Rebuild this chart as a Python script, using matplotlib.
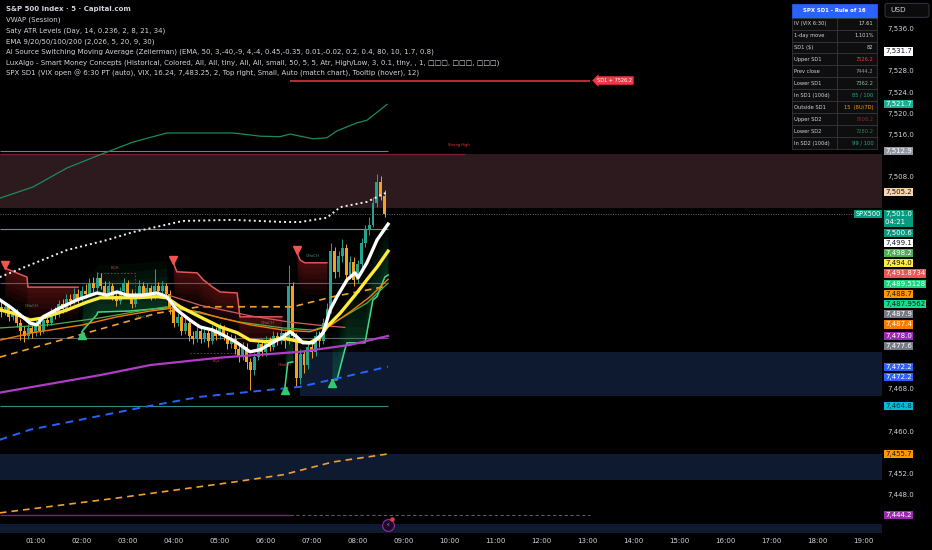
import numpy as np
import matplotlib.pyplot as plt
from matplotlib.patches import Rectangle, FancyBboxPatch
from matplotlib.ticker import FuncFormatter

BG = '#000000'
TXT = '#d1d4dc'
UP = '#22a48e'
DN = '#f5a01e'

# ---- 5 minute candles, first bar at 00:15
bar_start = 0.25
first_open = 7483.5
closes = [7482.5, 7483.5, 7481.5, 7482.5, 7480.5, 7479.0, 7478.0, 7479.5, 7478.5, 7480.0,
          7479.0, 7481.0, 7480.5, 7482.5, 7482.0, 7484.0, 7483.0, 7485.0, 7484.5, 7486.0,
          7485.0, 7486.5, 7486.0, 7488.0, 7487.0, 7489.0, 7487.5, 7486.0, 7487.5, 7485.5,
          7484.5, 7486.5, 7488.0, 7486.0, 7484.0, 7485.5, 7487.5, 7486.0, 7487.0, 7485.5,
          7487.5, 7486.5, 7487.5, 7486.0, 7483.0, 7480.5, 7481.5, 7479.0, 7480.5, 7478.0,
          7477.5, 7479.0, 7477.5, 7478.5, 7477.0, 7479.0, 7478.0, 7479.5, 7478.0, 7476.5,
          7477.5, 7475.5, 7474.0, 7476.0, 7473.0, 7471.5, 7474.0, 7476.5, 7475.0, 7477.0,
          7476.0, 7478.0, 7477.0, 7478.5, 7477.0, 7487.5, 7478.0, 7470.0, 7474.5, 7472.5,
          7476.0, 7475.0, 7478.0, 7477.0, 7480.5, 7483.0, 7494.0, 7490.0, 7493.0, 7494.5,
          7489.5, 7492.0, 7488.5, 7491.5, 7495.5, 7498.0, 7499.0, 7503.0, 7507.0, 7504.5,
          7501.0]
highs = [7484.5, 7484.3, 7484.0, 7483.4, 7483.0, 7481.2, 7479.8, 7480.3, 7480.5, 7481.0,
         7480.8, 7481.8, 7482.0, 7483.3, 7483.5, 7484.8, 7485.0, 7485.9, 7486.0, 7487.0,
         7486.8, 7487.5, 7487.8, 7489.0, 7489.2, 7490.0, 7489.8, 7488.3, 7488.4, 7488.0,
         7486.3, 7487.2, 7489.0, 7488.6, 7486.8, 7486.4, 7488.5, 7488.2, 7487.9, 7487.6,
         7490.6, 7488.2, 7488.3, 7488.0, 7486.6, 7483.8, 7482.4, 7482.0, 7481.3, 7481.0,
         7478.9, 7479.8, 7479.6, 7479.4, 7479.2, 7480.0, 7479.7, 7480.4, 7480.1, 7478.7,
         7478.3, 7478.2, 7476.3, 7476.8, 7476.6, 7473.8, 7474.8, 7477.3, 7477.1, 7477.9,
         7477.7, 7478.9, 7478.7, 7479.5, 7479.0, 7491.4, 7488.2, 7478.6, 7475.5, 7475.2,
         7477.0, 7476.8, 7479.0, 7478.9, 7481.4, 7484.2, 7495.6, 7494.8, 7494.0, 7496.3,
         7495.3, 7493.0, 7492.8, 7492.4, 7496.4, 7499.0, 7500.5, 7504.2, 7508.6, 7508.2,
         7505.6]
lows = [7481.5, 7482.0, 7480.8, 7481.0, 7479.6, 7477.2, 7476.8, 7477.4, 7477.6, 7477.9,
        7478.2, 7478.6, 7479.8, 7480.0, 7481.2, 7481.5, 7482.3, 7482.6, 7483.7, 7484.0,
        7484.3, 7484.6, 7485.2, 7485.5, 7486.3, 7486.5, 7486.8, 7485.2, 7485.5, 7484.8,
        7483.6, 7484.0, 7485.8, 7485.3, 7483.2, 7483.4, 7485.0, 7485.4, 7485.3, 7484.8,
        7485.0, 7485.8, 7485.9, 7485.2, 7482.2, 7479.6, 7479.8, 7478.2, 7478.4, 7477.0,
        7476.5, 7476.8, 7476.6, 7476.9, 7476.0, 7476.4, 7477.2, 7477.5, 7477.2, 7475.6,
        7475.8, 7474.6, 7473.0, 7473.4, 7471.8, 7467.8, 7470.6, 7473.4, 7474.2, 7474.3,
        7475.1, 7475.4, 7476.2, 7476.4, 7475.8, 7476.5, 7477.0, 7468.5, 7468.9, 7471.0,
        7471.8, 7473.9, 7474.3, 7476.0, 7476.5, 7479.8, 7482.4, 7489.0, 7489.2, 7492.0,
        7488.6, 7488.8, 7487.4, 7487.9, 7491.0, 7494.8, 7497.0, 7498.5, 7502.4, 7503.6,
        7500.4]

# ---- indicator lines (time in hours, price)
ema9_t = [0.22, 0.44, 0.66, 0.88, 1.03, 1.16, 1.53, 1.90, 2.33, 2.55, 2.77, 2.98, 3.33,
          3.64, 3.85, 4.07, 4.35, 4.57, 4.85, 5.07, 5.38, 5.66, 5.88, 6.14, 6.38, 6.53,
          6.68, 6.81, 7.03, 7.25, 7.40, 7.55, 7.77, 7.94, 8.01, 8.20, 8.42, 8.66]
ema9_p = [7484.8, 7483.5, 7482.0, 7480.4, 7480.1, 7481.6, 7483.3, 7484.8, 7486.1, 7485.7,
          7486.3, 7485.7, 7485.7, 7486.1, 7485.4, 7482.9, 7481.0, 7479.7, 7479.1, 7478.2,
          7476.7, 7475.0, 7475.4, 7476.7, 7477.8, 7478.8, 7477.8, 7476.7, 7476.7, 7478.6,
          7482.9, 7485.4, 7488.6, 7489.9, 7489.0, 7491.8, 7496.1, 7499.1]
ema20_t = [0.22, 0.51, 0.88, 1.16, 1.68, 2.12, 2.40, 3.12, 3.64, 3.85, 4.14, 4.57, 5.01,
           5.38, 5.66, 6.03, 6.38, 6.75, 6.96, 7.18, 7.33, 7.62, 7.98, 8.20, 8.42, 8.66]
ema20_p = [7482.9, 7482.3, 7481.0, 7481.4, 7482.9, 7484.4, 7485.2, 7485.2, 7485.4, 7485.2,
           7483.5, 7481.6, 7479.7, 7478.6, 7477.2, 7476.9, 7477.6, 7476.9, 7476.7, 7477.8,
           7479.7, 7482.3, 7486.1, 7488.6, 7491.0, 7494.0]
ema50_t = [0.22, 0.94, 2.03, 2.77, 3.49, 4.03, 4.57, 5.01, 5.66, 6.38, 6.96, 7.40, 7.83, 8.27, 8.66]
ema50_p = [7477.2, 7478.6, 7480.1, 7481.6, 7482.7, 7483.3, 7482.5, 7481.4, 7480.1, 7479.1,
           7478.8, 7479.9, 7482.5, 7485.4, 7488.7]
trend_t = [0.22, 1.31, 2.40, 3.12, 3.85, 4.57, 5.44, 6.38, 7.03, 7.40, 7.83, 8.20, 8.66]
trend_p = [7479.5, 7480.1, 7481.4, 7482.5, 7483.5, 7482.3, 7480.6, 7479.5, 7479.1, 7480.1,
           7482.3, 7484.2, 7487.96]
band_t = [3.92, 4.57, 5.66, 6.53, 7.18, 7.72]
band_p = [7485.6, 7483.8, 7481.8, 7480.6, 7480.0, 7479.6]
vwap_up_t = [0.22, 1.68, 2.55, 3.12, 4.20, 5.29, 6.38, 6.75, 7.33, 7.62, 8.20, 8.66]
vwap_up_p = [7489.1, 7494.2, 7496.1, 7497.6, 7499.7, 7499.9, 7499.5, 7499.5, 7500.3, 7502.3,
             7503.3, 7505.2]
atr_up_t = [0.22, 0.94, 1.68, 2.40, 3.12, 3.85, 5.29, 5.88, 6.31, 6.53, 7.03, 7.33, 7.55,
            7.98, 8.20, 8.64]
atr_up_p = [7504.0, 7506.1, 7509.7, 7512.2, 7514.6, 7516.3, 7516.3, 7515.7, 7515.6, 7516.1,
            7515.2, 7515.4, 7516.7, 7518.2, 7518.7, 7521.7]
ema100_t = [0.22, 1.96, 3.64, 4.57, 6.59, 7.46, 8.64]
ema100_p = [7474.0, 7478.2, 7482.3, 7483.5, 7483.5, 7485.4, 7487.4]
ema200_t = [0.22, 2.77, 5.29, 6.38, 7.46, 8.64]
ema200_p = [7444.6, 7447.4, 7450.4, 7451.8, 7454.2, 7455.7]
vwap_dn_t = [0.22, 0.88, 3.49, 4.57, 6.75, 7.62, 8.66]
vwap_dn_p = [7458.4, 7460.3, 7464.8, 7466.5, 7468.4, 7470.1, 7472.2]
vwap_t = [0.22, 2.40, 3.49, 5.01, 6.75, 7.83, 8.66]
vwap_p = [7467.3, 7470.6, 7472.5, 7473.9, 7475.0, 7476.3, 7478.0]

# trailing stops of the switching average
bear_steps = [([0.33, 0.81, 0.83, 1.92], [7490.8, 7489.1, 7487.2, 7487.2]),
              ([3.99, 4.07, 4.51, 4.64, 4.85, 5.01, 5.38, 5.44, 6.35],
               [7491.8, 7490.1, 7489.9, 7488.6, 7487.2, 7486.3, 7486.1, 7481.6, 7481.6]),
              ([6.68, 6.75, 6.85, 7.33], [7493.7, 7492.3, 7491.8, 7491.8])]
bull_steps = [([2.01, 2.03, 2.33, 2.35, 3.05, 3.85], [7478.8, 7479.1, 7482.0, 7482.5, 7482.7, 7483.3]),
              ([6.42, 6.48, 6.59], [7468.4, 7472.9, 7473.1]),
              ([7.44, 7.55, 7.72, 7.77, 8.16, 8.33, 8.42, 8.59, 8.66],
               [7469.7, 7469.7, 7475.4, 7476.7, 7476.7, 7484.8, 7485.4, 7489.1, 7489.5])]

# horizontal levels drawn over the session
levels = [7512.9, 7498.2, 7487.9, 7477.6, 7464.8]
level_colors = ['#787b86', '#4caf50', '#5d606b', '#5d606b', '#2a8f8c']
strong_high = 7512.4
sd1_upper = 7526.2
prev_close = 7444.2
last_price = 7501.0

# zones (start hour, top, bottom)
premium_zone = (7512.3, 7502.2)
discount_zones = [(6.75, 7475.0, 7466.7), (0.22, 7455.7, 7450.8), (0.22, 7442.5, 7440.8)]

# smart money labels
choch_t = [0.92, 3.33, 6.05, 7.01]
choch_p = [7483.7, 7481.6, 7480.4, 7493.1]

# price scale tags
tag_values = [7531.7, 7521.7, 7512.9, 7505.2, 7501.0, 7500.6, 7499.1, 7498.2, 7494.0,
              7491.8734, 7489.5128, 7488.7, 7487.9562, 7487.9, 7487.4, 7478.0, 7477.6,
              7472.2, 7472.2, 7464.8, 7455.7, 7444.2]
tag_text = ['7,531.7', '7,521.7', '7,512.9', '7,505.2', '7,501.0', '7,500.6', '7,499.1',
            '7,498.2', '7,494.0', '7,491.8734', '7,489.5128', '7,488.7', '7,487.9562',
            '7,487.9', '7,487.4', '7,478.0', '7,477.6', '7,472.2', '7,472.2', '7,464.8',
            '7,455.7', '7,444.2']
tag_bg = ['#ffffff', '#22ab94', '#9598a1', '#f9d3ad', '#089981', '#089981', '#ffffff',
          '#4caf50', '#ffeb3b', '#f05350', '#1ed47e', '#ff9800', '#19d98a', '#787b86',
          '#f57c00', '#9c27b0', '#787b86', '#2962ff', '#2962ff', '#00bcd4', '#ff9800',
          '#9c27b0']
tag_fg = ['#131722', 'white', 'white', '#131722', 'white', 'white', '#131722', 'white',
          '#131722', 'white', 'white', '#131722', '#131722', 'white', 'white', 'white',
          'white', 'white', 'white', '#0b2f3a', '#131722', 'white']

table_keys = ['IV (VIX 6:30)', '1-day move', 'SD1 ($)', 'Upper SD1', 'Prev close',
              'Lower SD1', 'In SD1 (100d)', 'Outside SD1', 'Upper SD2', 'Lower SD2',
              'In SD2 (100d)']
table_vals = ['17.61', '1.101%', '82', '7526.2', '7444.2', '7362.2', '85 / 100',
              '15  (8U/7D)', '7608.2', '7280.2', '99 / 100']
table_colors = [TXT, TXT, TXT, '#f23645', '#9598a1', '#8fb59a', '#22ab94', '#ff9800',
                '#8b2a35', '#2e7d4f', '#22ab94']

legend_lines = [
    'S&P 500 Index · 5 · Capital.com',
    'VWAP (Session)',
    'Saty ATR Levels (Day, 14, 0.236, 2, 8, 21, 34)',
    'EMA 9/20/50/100/200 (2,026, 5, 20, 9, 30)',
    'AI Source Switching Moving Average (Zeiierman) (EMA, 50, 3,-40,-9, 4,-4, 0.45,-0.35, 0.01,-0.02, 0.2, 0.4, 80, 10, 1.7, 0.8)',
    'LuxAlgo - Smart Money Concepts (Historical, Colored, All, All, tiny, All, All, small, 50, 5, 5, Atr, High/Low, 3, 0.1, tiny, , 1, □□□, □□□, □□□)',
    'SPX SD1 (VIX open @ 6:30 PT (auto), VIX, 16.24, 7,483.25, 2, Top right, Small, Auto (match chart), Tooltip (hover), 12)',
]

hours = list(range(1, 20))

fig = plt.figure(figsize=(9.32, 5.5), dpi=100, facecolor=BG)
ax = fig.add_axes([0, 17 / 550, 882 / 932, 533 / 550])
ax.set_facecolor(BG)
x0, x1 = 0.224, 19.398
y0, y1 = 7440.8, 7541.4
ax.set_xlim(x0, x1)
ax.set_ylim(y0, y1)
for s in ax.spines.values():
    s.set_visible(False)

# zones
ax.axhspan(premium_zone[1], premium_zone[0], color='#2c1a1e', lw=0, zorder=0)
for ts, top, bot in discount_zones:
    ax.fill_between([ts, x1], top, bot, color='#0d1a30', lw=0, zorder=0)

# levels
end_t = ema9_t[-1]
for lv, c in zip(levels, level_colors):
    ax.hlines(lv, x0, end_t, color=c, lw=0.8, zorder=1)
ax.hlines(strong_high, x0, 10.33, color='#7a2228', lw=0.9, zorder=1)
ax.text(10.2, strong_high + 1.4, 'Strong High', color='#f23645', fontsize=2.6, ha='center', zorder=6)
ax.hlines(sd1_upper, 6.53, 13.05, color='#f23645', lw=1.1, zorder=2)
ax.text(13.2, sd1_upper, 'SD1 + 7526.2', color='white', fontsize=3.6, ha='left', va='center',
        bbox=dict(boxstyle='larrow,pad=0.35', fc='#f23645', ec='none'), zorder=8)
ax.hlines(prev_close, x0, 6.53, color='#6a2f6e', lw=1.0, zorder=1)
ax.hlines(prev_close, 6.53, 13.05, color='#6b6e78', lw=0.6, ls=(0, (4, 3)), zorder=1)
ax.hlines(last_price, x0, x1, color='#5a6e6a', lw=0.7, ls=(0, (1, 1.5)), zorder=1)

# switching average trailing stops with shaded areas
for ts, ps in bear_steps:
    ps = np.array(ps)
    for k in range(6):
        ax.fill_between(ts, ps, ps - 6 * (k + 1) / 6, color='#c02a2a', alpha=0.07, lw=0, zorder=1)
    ax.plot(ts, ps, color='#e05858', lw=1.1, zorder=4)
    ax.plot(ts[0], ps[0] + 0.6, marker='v', ms=5.5, color='#f05350', zorder=5)
for ts, ps in bull_steps:
    ps = np.array(ps)
    for k in range(6):
        ax.fill_between(ts, ps, ps + 9 * (k + 1) / 6, color='#1fa060', alpha=0.06, lw=0, zorder=1)
    ax.plot(ts, ps, color='#3ddc84', lw=1.1, zorder=4)
    ax.plot(ts[0], ps[0] - 0.6, marker='^', ms=5.5, color='#2ecc71', zorder=5)

# candles
closes = np.array(closes)
opens = np.r_[first_open, closes[:-1]]
t_bar = bar_start + np.arange(len(closes)) / 12
col = np.where(closes >= opens, UP, DN)
ax.vlines(t_bar, lows, highs, colors=col, lw=0.7, zorder=3)
ax.bar(t_bar, np.maximum(np.abs(closes - opens), 0.2), bottom=np.minimum(opens, closes),
       width=0.064, color=col, lw=0, zorder=3)

# averages / bands
ax.plot(atr_up_t, atr_up_p, color='#1d8a5c', lw=0.9, zorder=2)
ax.plot(vwap_up_t, vwap_up_p, color='#f0f0f0', lw=1.4, ls=(0, (1, 1.6)), zorder=4)
ax.plot(vwap_dn_t, vwap_dn_p, color='#2962ff', lw=1.4, ls=(0, (4, 3)), zorder=4)
ax.plot(ema100_t, ema100_p, color='#f0a030', lw=1.2, ls=(0, (4, 3)), zorder=4)
ax.plot(ema200_t, ema200_p, color='#f0a030', lw=1.2, ls=(0, (4, 3)), zorder=4)
ax.plot(vwap_t, vwap_p, color='#b03cc8', lw=1.6, zorder=4)
ax.plot(band_t, band_p, color='#d0605a', lw=0.9, zorder=4)
ax.plot(trend_t, trend_p, color='#4caf50', lw=0.9, zorder=4)
ax.plot(ema50_t, ema50_p, color='#f57c00', lw=1.0, zorder=4)
ax.plot(ema20_t, ema20_p, color='#ffeb3b', lw=2.4, zorder=5)
ax.plot(ema9_t, ema9_p, color='#ffffff', lw=2.4, zorder=5)

# smart money concept labels
for t, p in zip(choch_t, choch_p):
    ax.text(t, p, 'CHoCH', color='#4f8f70', fontsize=2.8, ha='center', va='center', zorder=6)
ax.text(6.42, 7472.5, 'CHoCH', color='#c8404a', fontsize=2.8, ha='center', va='center', zorder=6)
ax.plot([2.33, 3.16, 3.16], [7489.9, 7489.9, 7486.1], color='#a03040', lw=0.6, ls=(0, (2, 2)), zorder=2)
ax.text(2.72, 7491.0, 'EQH', color='#c8404a', fontsize=2.8, ha='center', va='center', zorder=6)
ax.plot([4.35, 5.38], [7474.8, 7474.8], color='#a03040', lw=0.6, ls=(0, (2, 2)), zorder=2)
ax.text(4.92, 7473.3, 'EQL', color='#c8404a', fontsize=2.8, ha='center', va='center', zorder=6)

# alert icon
ax.plot(end_t, 7442.3, 'o', ms=8.5, mfc='#1a0d22', mec='#9c27b0', mew=0.8, zorder=7, clip_on=False)
ax.text(end_t, 7442.3, '⚡', color='#b45fd0', fontsize=4.5, ha='center', va='center', zorder=8)
ax.plot(end_t + 0.09, 7443.5, 'o', ms=2.2, color='#f23645', zorder=9)

# price tags on the scale, stacked so they do not overlap
upp = (y1 - y0) / 533.0
half = 5.1 * upp
ytr = ax.get_yaxis_transform()
bottom = 1e9
tag_pos = []
for v, s, bg, fg in zip(tag_values, tag_text, tag_bg, tag_fg):
    y = min(v, bottom - half)
    ax.text(1.0035, y, s, transform=ytr, fontsize=5, color=fg, ha='left', va='center',
            bbox=dict(boxstyle='square,pad=0.16', fc=bg, ec='none'), zorder=10, clip_on=False)
    tag_pos.append(y)
    bottom = y - half
    if s == '7,501.0':
        y2 = y - 8.4 * upp
        ax.text(1.0035, y2, '04:21   ', transform=ytr, fontsize=5, color=fg, ha='left',
                va='center', bbox=dict(boxstyle='square,pad=0.16', fc=bg, ec='none'),
                zorder=10, clip_on=False)
        tag_pos.append(y2)
        bottom = y2 - half
ax.text(0.9985, last_price, 'SPX500', transform=ytr, fontsize=4.8, color='white', ha='right',
        va='center', bbox=dict(boxstyle='square,pad=0.16', fc='#089981', ec='none'), zorder=10)

# axes ticks; scale labels hidden where a tag covers them
tag_pos = np.array(tag_pos)


def price_fmt(v, _):
    if np.any(np.abs(tag_pos - v) < 9.0 * upp):
        return ''
    return f'{v:,.1f}'


ax.yaxis.tick_right()
ax.set_yticks(np.arange(7448, 7537, 4))
ax.yaxis.set_major_formatter(FuncFormatter(price_fmt))
ax.set_xticks(hours)
ax.set_xticklabels([f'{h:02d}:00' for h in hours])
ax.tick_params(axis='both', length=0, colors=TXT, labelsize=5)
ax.tick_params(axis='y', pad=4.2)
ax.tick_params(axis='x', pad=3.5)

# USD button
fig.add_artist(FancyBboxPatch((885 / 932, 1 - 17.3 / 550), 44 / 932, 14 / 550,
                              boxstyle='round,pad=0,rounding_size=0.004', fc='#0b0b0b',
                              ec='#3b3f4a', lw=0.6, transform=fig.transFigure))
fig.text(890 / 932, 1 - 10.3 / 550, 'USD', fontsize=5.3, color=TXT, va='center')

# legend text
for i, s in enumerate(legend_lines):
    fig.text(6 / 932, 1 - (9.5 + i * 10.6) / 550, s, fontsize=5, color=TXT, va='center',
             weight='bold' if i == 0 else 'normal')

# SD1 table
tab = fig.add_axes([792 / 932, 1 - 149 / 550, 85 / 932, 145 / 550])
tab.set_xlim(0, 85)
tab.set_ylim(145, 0)
tab.axis('off')
tab.add_patch(Rectangle((0, 0), 85, 13.7, fc='#2962ff', ec='#2962ff', lw=0.5, clip_on=False))
tab.text(42.5, 6.9, 'SPX SD1 - Rule of 16', fontsize=3.9, color='white', ha='center',
         va='center', weight='bold')
for i, (k, v, c) in enumerate(zip(table_keys, table_vals, table_colors)):
    ry = 13.7 + i * 11.93
    tab.add_patch(Rectangle((0, ry), 44.7, 11.93, fc='#0e0e0e', ec='#3a3d45', lw=0.5, clip_on=False))
    tab.add_patch(Rectangle((44.7, ry), 40.3, 11.93, fc='#0e0e0e', ec='#3a3d45', lw=0.5, clip_on=False))
    tab.text(2.5, ry + 6, k, fontsize=3.7, color=TXT, ha='left', va='center')
    tab.text(81.5, ry + 6, v, fontsize=3.7, color=c, ha='right', va='center')

fig.savefig('out.png', dpi=100, facecolor=BG)
